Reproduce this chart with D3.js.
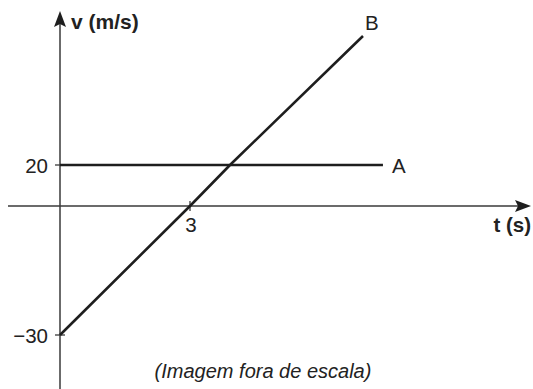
<!DOCTYPE html>
<html><head><meta charset="utf-8">
<script src="https://cdn.jsdelivr.net/npm/d3@7"></script>
<style>html,body{margin:0;padding:0;background:#fff;}svg{display:block;}</style>
</head><body>
<script>
// Data (figure is "fora de escala": piecewise scales)
const tB = [0, 3, 5, 7];
const vB = [-30, 0, 20, 40];
const tA = [0, 7.3];
const vA = [20, 20];
const yTickValues = [20, -30];
const yTickLabels = ["20", "\u221230"];
const xTickValues = [3];
const xTickLabels = ["3"];
const seriesLabels = ["A", "B"];
const yTitle = "v (m/s)";
const xTitle = "t (s)";
const caption = "(Imagem fora de escala)";

const W = 533, H = 389;
const svg = d3.select("body").append("svg").attr("width", W).attr("height", H);

const x = d3.scaleLinear().domain([0, 3, 5, 7]).range([60, 190, 230, 363]);
const y = d3.scaleLinear().domain([-30, 0, 20, 40]).range([335, 206, 165, 36]);

const axisColor = "#3a3a3a", lineColor = "#1e1e1e", textColor = "#222";
const font = "'Liberation Sans', Arial, sans-serif";
const x0 = x(0), y0 = y(0);

// x axis
svg.append("line").attr("x1", 8).attr("x2", 518).attr("y1", y0).attr("y2", y0)
  .attr("stroke", axisColor).attr("stroke-width", 1.5);
svg.append("path").attr("d", `M531,${y0} L515,${y0-6} L518,${y0} L515,${y0+6} Z`).attr("fill", lineColor);
// y axis
svg.append("line").attr("x1", x0).attr("x2", x0).attr("y1", H).attr("y2", 24)
  .attr("stroke", axisColor).attr("stroke-width", 1.5);
svg.append("path").attr("d", `M${x0},11 L${x0-6},27 L${x0},24 L${x0+6},27 Z`).attr("fill", lineColor);

// y ticks
yTickValues.forEach((v, i) => {
  svg.append("line").attr("x1", x0 - 5).attr("x2", x0 + 5).attr("y1", y(v)).attr("y2", y(v))
    .attr("stroke", axisColor).attr("stroke-width", 1.3);
  svg.append("text").attr("x", 48).attr("y", y(v) + 7.5).attr("text-anchor", "end")
    .attr("font-family", font).attr("font-size", 20.5).attr("fill", textColor).text(yTickLabels[i]);
});
// x ticks
xTickValues.forEach((t, i) => {
  svg.append("line").attr("x1", x(t)).attr("x2", x(t)).attr("y1", y0 - 5).attr("y2", y0 + 5)
    .attr("stroke", axisColor).attr("stroke-width", 1.3);
  svg.append("text").attr("x", x(t) + 1).attr("y", 232).attr("text-anchor", "middle")
    .attr("font-family", font).attr("font-size", 20.5).attr("fill", textColor).text(xTickLabels[i]);
});

// series lines
const line = d3.line().x(d => x(d[0])).y(d => y(d[1]));
const dA = tA.map((t, i) => [t, vA[i]]);
const dB = tB.map((t, i) => [t, vB[i]]);
svg.append("path").attr("d", line(dA)).attr("fill", "none").attr("stroke", lineColor).attr("stroke-width", 2.6);
svg.append("path").attr("d", line(dB)).attr("fill", "none").attr("stroke", lineColor).attr("stroke-width", 2.6);

// series labels
svg.append("text").attr("x", x(tA[1]) + 9).attr("y", y(vA[1]) + 8)
  .attr("font-family", font).attr("font-size", 20.5).attr("fill", textColor).text(seriesLabels[0]);
svg.append("text").attr("x", x(tB[3]) + 2).attr("y", y(vB[3]) - 6)
  .attr("font-family", font).attr("font-size", 20.5).attr("fill", textColor).text(seriesLabels[1]);

// axis titles
svg.append("text").attr("x", 71).attr("y", 29)
  .attr("font-family", font).attr("font-size", 21).attr("font-weight", "bold").attr("fill", textColor).text(yTitle);
svg.append("text").attr("x", 531).attr("y", 232).attr("text-anchor", "end")
  .attr("font-family", font).attr("font-size", 20.5).attr("font-weight", "bold").attr("fill", textColor).text(xTitle);

// caption
svg.append("text").attr("x", 263).attr("y", 378).attr("text-anchor", "middle")
  .attr("font-family", font).attr("font-size", 20).attr("font-style", "italic").attr("fill", textColor).text(caption);
</script>
</body></html>
